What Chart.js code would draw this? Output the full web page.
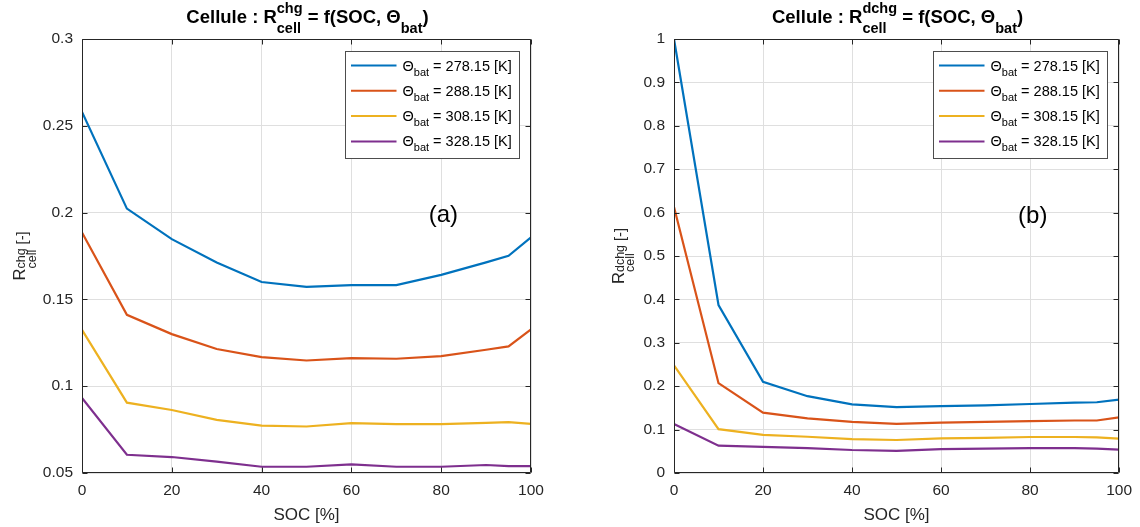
<!DOCTYPE html>
<html><head><meta charset="utf-8">
<script src="https://cdn.jsdelivr.net/npm/chart.js@4"></script>
<style>
html,body{margin:0;padding:0;background:#fff;width:1140px;height:527px;overflow:hidden}
.wrap{position:absolute;top:0;width:570px;height:527px}
</style></head><body>
<div class="wrap" style="left:0"><canvas id="c1" width="570" height="527"></canvas></div>
<div class="wrap" style="left:570px"><canvas id="c2" width="570" height="527"></canvas></div>
<script>
// ---------- data ----------
const soc = [0, 10, 20, 30, 40, 50, 60, 70, 80, 90, 95, 100];
const tempLabels = ['278.15', '288.15', '308.15', '328.15'];
const chg278 = [0.258, 0.2023, 0.1847, 0.1713, 0.1600, 0.1572, 0.1582, 0.1582, 0.1641, 0.1713, 0.1751, 0.1858];
const chg288 = [0.1885, 0.1411, 0.1300, 0.1214, 0.1168, 0.1148, 0.1162, 0.1158, 0.1173, 0.1210, 0.1229, 0.1328];
const chg308 = [0.1325, 0.0905, 0.0863, 0.0806, 0.0773, 0.0768, 0.0787, 0.0781, 0.0781, 0.0789, 0.0793, 0.0783];
const chg328 = [0.0932, 0.0605, 0.0592, 0.0565, 0.0536, 0.0536, 0.0550, 0.0536, 0.0536, 0.0546, 0.0540, 0.0540];
const dchg278 = [1.000, 0.387, 0.210, 0.177, 0.158, 0.152, 0.154, 0.156, 0.159, 0.162, 0.163, 0.169];
const dchg288 = [0.613, 0.207, 0.139, 0.126, 0.118, 0.113, 0.116, 0.118, 0.1195, 0.121, 0.121, 0.128];
const dchg308 = [0.248, 0.101, 0.088, 0.0835, 0.078, 0.076, 0.080, 0.081, 0.083, 0.083, 0.082, 0.079];
const dchg328 = [0.113, 0.063, 0.060, 0.0575, 0.053, 0.051, 0.055, 0.056, 0.0575, 0.0575, 0.056, 0.054];
const yRangeChg = [0.05, 0.3, 0.05];
const yRangeDchg = [0, 1, 0.1];
const xRange = [0, 100, 20];
const panelLabels = ['(a)', '(b)'];
const panelLabelPosA = [80.5, 0.1986];
const panelLabelPosB = [80.6, 0.592];

// ---------- style ----------
const COLORS = ['#0072BD', '#D95319', '#EDB120', '#7E2F8E'];
const FONT = '"Liberation Sans", Arial, Helvetica, sans-serif';
const AXC = '#262626';

function richWidth(ctx, parts) {
  let w = 0;
  for (const p of parts) {
    ctx.font = p.f;
    if (p.t !== undefined) w += ctx.measureText(p.t).width;
    else w += Math.max(p.sup ? ctx.measureText(p.sup).width : 0, p.sub ? ctx.measureText(p.sub).width : 0);
  }
  return w;
}
function drawRich(ctx, parts, x, y) {
  let cx = x;
  for (const p of parts) {
    ctx.font = p.f;
    if (p.t !== undefined) { ctx.fillText(p.t, cx, y + (p.dy || 0)); cx += ctx.measureText(p.t).width; }
    else {
      let w = 0;
      if (p.sup) { ctx.fillText(p.sup, cx, y + p.supDy); w = Math.max(w, ctx.measureText(p.sup).width); }
      if (p.sub) { ctx.fillText(p.sub, cx, y + p.subDy); w = Math.max(w, ctx.measureText(p.sub).width); }
      cx += w;
    }
  }
}

function titleParts(sup) {
  const b = `bold 18.5px ${FONT}`, s = `bold 14.5px ${FONT}`;
  return [
    {t: 'Cellule : R', f: b},
    {sup: sup, sub: 'cell', f: s, supDy: -9.5, subDy: 10},
    {t: ' = f(SOC, \u0398', f: b},
    {sub: 'bat', f: s, subDy: 10},
    {t: ')', f: b}
  ];
}
function ylabelParts(sup) {
  return [
    {t: 'R', f: `16.5px ${FONT}`},
    {sup: sup, sub: 'cell', f: `12.5px ${FONT}`, supDy: 0, subDy: 10.5},
    {t: ' [-]', f: `14.5px ${FONT}`, dy: 1.5}
  ];
}

function makePlugin(sup, ylabelX, panelLabel, panelPos) {
  return {
    id: 'matlabDecor',
    afterDatasetsDraw(chart) {
      const ctx = chart.ctx, a = chart.chartArea;
      const xs = chart.scales.x, ys = chart.scales.y;
      ctx.save();
      ctx.strokeStyle = AXC; ctx.lineWidth = 1;
      const L = Math.round(a.left) + 0.5, R = Math.round(a.right) - 0.5;
      const T = Math.round(a.top) + 0.5, B = Math.round(a.bottom) - 0.5;
      ctx.beginPath();
      ctx.rect(L, T, R - L, B - T);
      const tl = 5;
      xs.ticks.forEach(t => {
        const px = Math.round(xs.getPixelForValue(t.value)) + 0.5;
        ctx.moveTo(px, B); ctx.lineTo(px, B - tl);
        ctx.moveTo(px, T); ctx.lineTo(px, T + tl);
      });
      ys.ticks.forEach(t => {
        const py = Math.round(ys.getPixelForValue(t.value)) + 0.5;
        ctx.moveTo(L, py); ctx.lineTo(L + tl, py);
        ctx.moveTo(R, py); ctx.lineTo(R - tl, py);
      });
      ctx.stroke();
      ctx.restore();
    },
    afterDraw(chart) {
      const ctx = chart.ctx, a = chart.chartArea;
      const xs = chart.scales.x, ys = chart.scales.y;
      ctx.save();
      ctx.fillStyle = '#000';
      ctx.textBaseline = 'alphabetic';
      ctx.textAlign = 'left';
      // title
      const tp = titleParts(sup);
      const tw = richWidth(ctx, tp);
      drawRich(ctx, tp, (a.left + a.right) / 2 - tw / 2 + 1, 22.7);
      // x label
      ctx.fillStyle = AXC;
      ctx.font = `17px ${FONT}`;
      ctx.textAlign = 'center';
      ctx.fillText('SOC [%]', (a.left + a.right) / 2, 520);
      // y label
      ctx.textAlign = 'left';
      const yp = ylabelParts(sup);
      const yw = richWidth(ctx, yp);
      ctx.save();
      ctx.translate(ylabelX, (a.top + a.bottom) / 2);
      ctx.rotate(-Math.PI / 2);
      drawRich(ctx, yp, -yw / 2, 0);
      ctx.restore();
      // panel label
      ctx.fillStyle = '#000';
      ctx.font = `24px ${FONT}`;
      ctx.textAlign = 'center';
      ctx.textBaseline = 'middle';
      ctx.fillText(panelLabel, xs.getPixelForValue(panelPos[0]), ys.getPixelForValue(panelPos[1]));
      // legend
      const bw = 174, bh = 107;
      const bx = Math.round(a.right - 12 - bw) + 0.5, by = Math.round(a.top + 11.5) + 0.5;
      ctx.fillStyle = '#fff';
      ctx.fillRect(bx, by, bw, bh);
      ctx.strokeStyle = '#4d4d4d'; ctx.lineWidth = 1;
      ctx.strokeRect(bx, by, bw, bh);
      ctx.textAlign = 'left';
      ctx.textBaseline = 'alphabetic';
      chart.data.datasets.forEach((ds, i) => {
        const cy = by + 14 + i * 25.3;
        ctx.strokeStyle = ds.borderColor; ctx.lineWidth = 2;
        ctx.beginPath(); ctx.moveTo(bx + 5.5, cy); ctx.lineTo(bx + 51, cy); ctx.stroke();
        ctx.fillStyle = '#000';
        drawRich(ctx, [
          {t: '\u0398', f: `14.5px ${FONT}`},
          {sub: 'bat', f: `11px ${FONT}`, subDy: 5},
          {t: ' = ' + tempLabels[i] + ' [K]', f: `14.5px ${FONT}`}
        ], bx + 57, cy + 5);
      });
      ctx.restore();
    }
  };
}

function buildDatasets(series) {
  return series.map((vals, i) => ({
    label: '\u0398bat = ' + tempLabels[i] + ' [K]',
    data: soc.map((x, j) => ({x: x, y: vals[j]})),
    borderColor: COLORS[i],
    backgroundColor: COLORS[i],
    borderWidth: 2.2,
    pointRadius: 0,
    tension: 0,
    fill: false
  }));
}

function makeChart(id, series, yr, yW, padRight, sup, ylabelX, panelLabel, panelPos) {
  return new Chart(document.getElementById(id), {
    type: 'line',
    data: {datasets: buildDatasets(series)},
    options: {
      responsive: false,
      animation: false,
      devicePixelRatio: 1,
      layout: {padding: {left: 0, right: padRight, top: 39, bottom: 0}},
      plugins: {legend: {display: false}, title: {display: false}, tooltip: {enabled: false}},
      scales: {
        x: {
          type: 'linear', min: xRange[0], max: xRange[1],
          ticks: {stepSize: xRange[2], color: AXC, font: {family: FONT, size: 15.5}, padding: 8, maxRotation: 0},
          grid: {color: '#dfdfdf', lineWidth: 1, drawTicks: false},
          border: {display: false},
          afterFit: s => { s.height = 54; }
        },
        y: {
          type: 'linear', min: yr[0], max: yr[1],
          ticks: {stepSize: yr[2], color: AXC, font: {family: FONT, size: 15.5}, padding: 9,
                  callback: v => String(Number(v.toFixed(2)))},
          grid: {color: '#dfdfdf', lineWidth: 1, drawTicks: false},
          border: {display: false},
          afterFit: s => { s.width = yW; }
        }
      }
    },
    plugins: [makePlugin(sup, ylabelX, panelLabel, panelPos)]
  });
}

makeChart('c1', [chg278, chg288, chg308, chg328], yRangeChg, 82, 39, 'chg', 25, panelLabels[0], panelLabelPosA);
makeChart('c2', [dchg278, dchg288, dchg308, dchg328], yRangeDchg, 104, 17, 'dchg', 53.5, panelLabels[1], panelLabelPosB);
</script>
</body></html>
